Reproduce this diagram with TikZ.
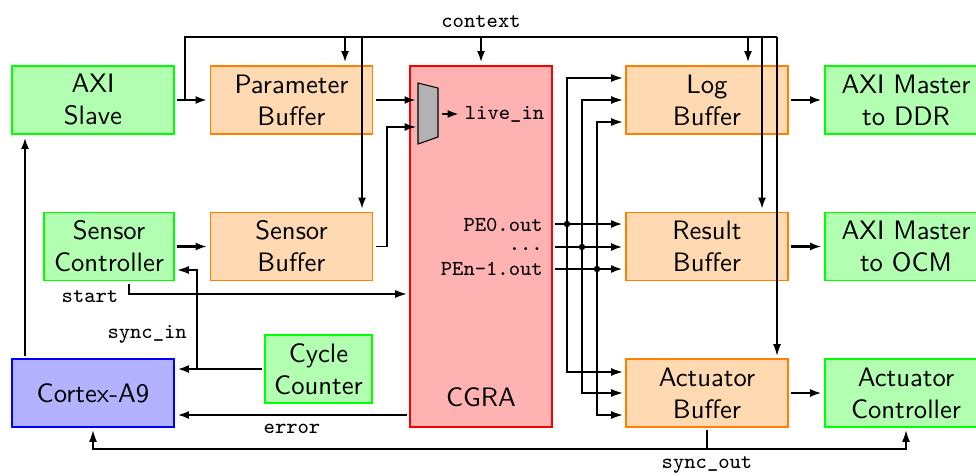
\documentclass[tikz,border=0pt]{standalone}
\usetikzlibrary{arrows.meta}
\begin{document}
\begin{tikzpicture}[
  x=0.375pt, y=-0.375pt,
  >={Latex[length=4.3pt,width=3pt]},
  box/.style={draw, line width=0.5pt, minimum width=60.75pt, minimum height=25.5pt,
              align=center, font=\sffamily, inner sep=0pt, outer sep=1.3pt},
  grn/.style={box, draw=green, fill=green!30},
  org/.style={box, draw=orange, fill=orange!30},
  blu/.style={box, draw=blue, fill=blue!30},
  sig/.style={font=\ttfamily\footnotesize, inner sep=1pt},
  bus/.style={line width=0.8pt}
]
\useasboundingbox (0,0) rectangle (976,475);

% ---- blocks ----
\node[grn] (axis)   at (93,100)    {AXI\\Slave};
\node[org] (param)  at (291.5,100) {Parameter\\Buffer};
\node[grn, minimum width=48.75pt] (sensc) at (109,246.5) {Sensor\\Controller};
\node[org] (sensb)  at (291.5,246.5) {Sensor\\Buffer};
\node[grn, minimum width=40.1pt] (cycle) at (318.5,369) {Cycle\\Counter};
\node[blu] (cortex) at (93,393)    {Cortex-A9};
\node[box, draw=red, fill=red!30, minimum width=53.25pt, minimum height=135.4pt] (cgra) at (481,246.5) {};
\node[font=\sffamily] (cgralbl) at (481,397) {CGRA};
\node[org] (log)    at (707,100)   {Log\\Buffer};
\node[org] (result) at (707,246.5) {Result\\Buffer};
\node[org] (act)    at (707,393)   {Actuator\\Buffer};
\node[grn] (ddr)    at (906,100)   {AXI Master\\to DDR};
\node[grn] (ocm)    at (906,246.5) {AXI Master\\to OCM};
\node[grn] (actc)   at (906,393)   {Actuator\\Controller};

% ---- input multiplexer inside the CGRA ----
\draw[fill=gray!60] (418,83) -- (438,88) -- (438,137) -- (418,144) -- cycle;
\coordinate (mxa) at (416,100);
\coordinate (mxb) at (416,127);
\coordinate (mxo) at (442,114);
\node[sig, anchor=west, inner sep=2pt] (livein) at (459,114) {live\_in};

% ---- PE output labels ----
\node[sig, anchor=east] (pe0l) at (546,225) {PE0.out};
\node[sig, anchor=base east] (pedl) at (546,250) {...};
\node[sig, anchor=east] (pe2l) at (546,269) {PEn-1.out};

% ---- context distribution ----
\coordinate (ctxs) at (185,100);
\coordinate (ctxe) at (777,37);
\coordinate (c1) at (345,37);
\coordinate (c2) at (362,37);
\coordinate (c3) at (481,37);
\coordinate (c4) at (748,37);
\coordinate (c5) at (762,37);
\draw (ctxs) |- (ctxe);
\draw[->] (ctxe) -- (ctxe |- act.north);
\draw[bus,->] (c1) -- (c1 |- param.north);
\draw[bus,->] (c2) -- (c2 |- sensb.north);
\draw[bus,->] (c3) -- (c3 |- cgra.north);
\draw[bus,->] (c4) -- (c4 |- log.north);
\draw[bus,->] (c5) -- (c5 |- result.north);
\node[sig] (ctxlbl) at (481,22) {context};

% ---- left side data paths ----
\draw[bus,->] (axis) -- (param);
\draw[bus,->] (param) -- (mxa);
\coordinate (sbk) at (387,246.5);
\draw[->] (sensb.east) -- (sbk) |- (mxb);
\draw[bus,->] (mxo) -- (livein.west);
\draw[bus,->] (sensc) -- (sensb);

% ---- CGRA outputs ----
\coordinate (pe0) at (555,224);
\coordinate (pe1) at (555,247);
\coordinate (pe2) at (555,269);
\draw[bus,->] (pe0) -- (pe0 -| result.west);
\draw[bus,->] (pe1) -- (pe1 -| result.west);
\draw[bus,->] (pe2) -- (pe2 -| result.west);
\coordinate (b0) at (567,224);
\coordinate (b1) at (582,247);
\coordinate (b2) at (597,269);
\fill (b0) circle (1.2pt) (b1) circle (1.2pt) (b2) circle (1.2pt);
\draw[->] (b0) |- (log.west |- 0,78);
\draw[->] (b1) |- (log.west |- 0,100);
\draw[->] (b2) |- (log.west |- 0,122);
\draw[->] (b0) |- (act.west |- 0,372);
\draw[->] (b1) |- (act.west |- 0,393);
\draw[->] (b2) |- (act.west |- 0,415);

% ---- buffers to masters ----
\draw[bus,->] (log) -- (ddr);
\draw[bus,->] (result) -- (ocm);
\draw[bus,->] (act) -- (actc);

% ---- control signals ----
\draw[bus,->] (cycle.west) -- (cycle.west -| cortex.east);
\coordinate (si) at (197,369);
\draw[->] (si) |- (sensc.east |- 0,270);
\node[sig, anchor=east] (silbl) at (190,334) {sync\_in};

\coordinate (st) at (129,294);
\draw[->] (sensc.south -| st) -- (st) -- (st -| cgra.west);
\node[sig] (stlbl) at (90,297) {start};

\draw[bus,->] (cgra.west |- 0,415) -- (cortex.east |- 0,415);
\node[sig] (errlbl) at (292,429) {error};

\draw[bus,->] (cortex.north -| 25,0) -- (axis.south -| 25,0);

\coordinate (so) at (707,449);
\draw (act.south) -- (so);
\draw[->] (so) -| (cortex.south);
\draw[->] (so) -| (actc.south);
\node[sig] (solbl) at (707,465) {sync\_out};
\end{tikzpicture}
\end{document}
